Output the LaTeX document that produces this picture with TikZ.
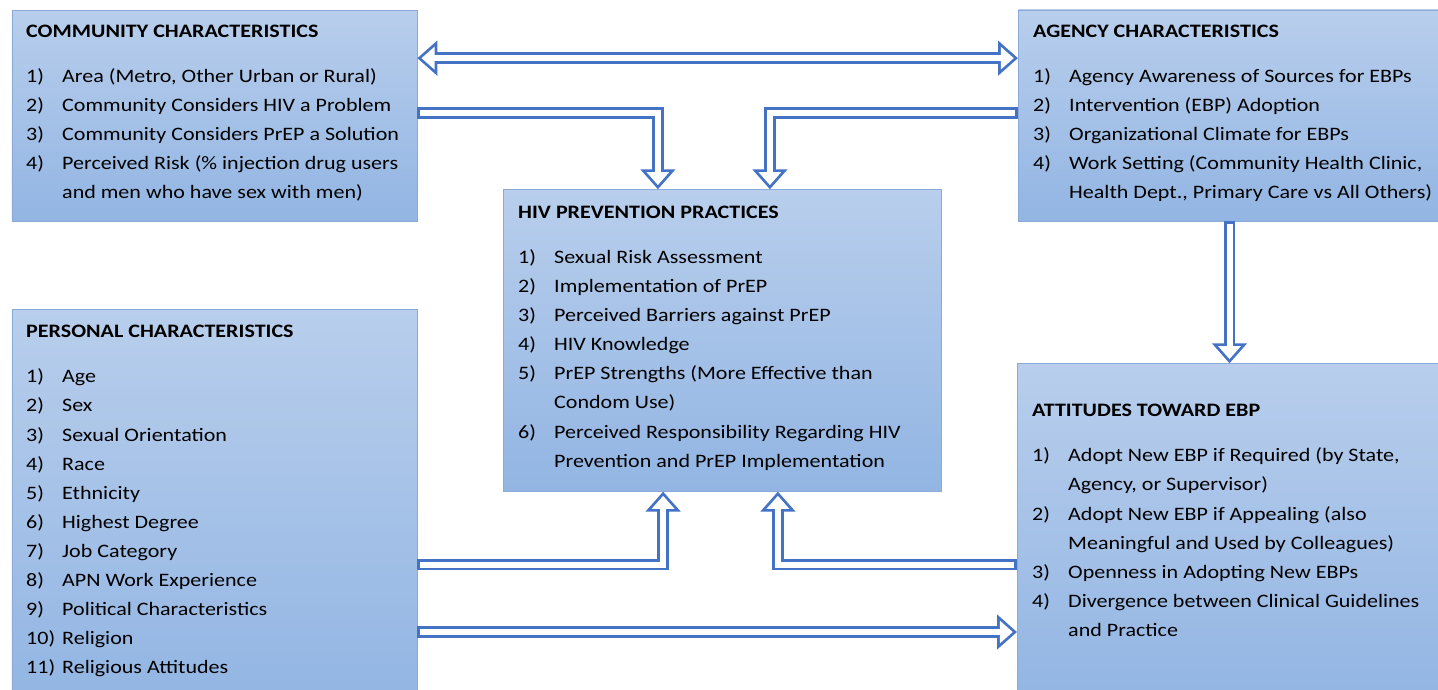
\documentclass[tikz,border=0pt]{standalone}
\usepackage{fontspec}
\setmainfont{Carlito}[FakeStretch=1.16]
\usetikzlibrary{arrows.meta,positioning}

\definecolor{boxtop}{RGB}{184,206,236}
\definecolor{boxbot}{RGB}{146,181,227}
\definecolor{boxline}{RGB}{140,170,215}
\definecolor{arrowblue}{RGB}{68,114,196}

\tikzset{
  panel/.style={rectangle, draw=boxline, line width=0.8pt, top color=boxtop,
    bottom color=boxbot, anchor=north west, inner sep=0pt},
  paneltext/.style={anchor=base west, inner sep=0pt,
    font=\fontsize{19}{29.1}\selectfont},
  % hollow block arrows: a wide blue stroke, then a white one on top
  outline/.style={draw=arrowblue, line width=11.5pt, line join=miter, line cap=butt},
  hollow/.style={draw=white, line width=6pt, line join=miter, line cap=butt},
  bighead/.tip={Triangle[length=20pt,width=34pt]},
  smallhead/.tip={Triangle[length=13pt,width=22pt]},
}

\newcommand{\paneltitle}[1]{\multicolumn{2}{@{}l@{}}{\textbf{#1}}\\[16pt]}

\begin{document}
\begin{tikzpicture}[x=1pt,y=-1pt]
\useasboundingbox (0,0) rectangle (1438,689);

% the five panels
\node[panel, minimum width=405pt, minimum height=210.5pt] (comm) at (11.5,10) {};
\node[panel, minimum width=430pt, minimum height=211pt] (agency) at (1018,9.5) {};
\node[panel, minimum width=438pt, minimum height=301.5pt] (hiv) at (502.7,189.3) {};
\node[panel, minimum width=405pt, minimum height=395pt] (personal) at (11.5,309) {};
\node[panel, minimum width=430pt, minimum height=340pt] (attitudes) at (1017,363.3) {};

\node[paneltext] (commtxt) at ([xshift=14.5pt,yshift=-27.3pt]comm.north west) {%
  \begin{tabular}[t]{@{}p{36pt}@{}l@{}}
  \paneltitle{COMMUNITY CHARACTERISTICS}
  1) & Area (Metro, Other Urban or Rural)\\
  2) & Community Considers HIV a Problem\\
  3) & Community Considers PrEP a Solution\\
  4) & Perceived Risk (\% injection drug users\\
     & and men who have sex with men)
  \end{tabular}};

\node[paneltext] (agencytxt) at ([xshift=15pt,yshift=-27.8pt]agency.north west) {%
  \begin{tabular}[t]{@{}p{36pt}@{}l@{}}
  \paneltitle{AGENCY CHARACTERISTICS}
  1) & Agency Awareness of Sources for EBPs\\
  2) & Intervention (EBP) Adoption\\
  3) & Organizational Climate for EBPs\\
  4) & Work Setting (Community Health Clinic,\\
     & Health Dept., Primary Care vs All Others)
  \end{tabular}};

\node[paneltext] (hivtxt) at ([xshift=15.3pt,yshift=-29pt]hiv.north west) {%
  \begin{tabular}[t]{@{}p{36pt}@{}l@{}}
  \paneltitle{HIV PREVENTION PRACTICES}
  1) & Sexual Risk Assessment\\
  2) & Implementation of PrEP\\
  3) & Perceived Barriers against PrEP\\
  4) & HIV Knowledge\\
  5) & PrEP Strengths (More Effective than\\
     & Condom Use)\\
  6) & Perceived Responsibility Regarding HIV\\
     & Prevention and PrEP Implementation
  \end{tabular}};

\node[paneltext] (personaltxt) at ([xshift=14.5pt,yshift=-28.7pt]personal.north west) {%
  \begin{tabular}[t]{@{}p{36pt}@{}l@{}}
  \paneltitle{PERSONAL CHARACTERISTICS}
  1) & Age\\
  2) & Sex\\
  3) & Sexual Orientation\\
  4) & Race\\
  5) & Ethnicity\\
  6) & Highest Degree\\
  7) & Job Category\\
  8) & APN Work Experience\\
  9) & Political Characteristics\\
  10) & Religion\\
  11) & Religious Attitudes
  \end{tabular}};

\node[paneltext] (attitudestxt) at ([xshift=15pt,yshift=-53.4pt]attitudes.north west) {%
  \begin{tabular}[t]{@{}p{36pt}@{}l@{}}
  \paneltitle{ATTITUDES TOWARD EBP}
  1) & Adopt New EBP if Required (by State,\\
     & Agency, or Supervisor)\\
  2) & Adopt New EBP if Appealing (also\\
     & Meaningful and Used by Colleagues)\\
  3) & Openness in Adopting New EBPs\\
  4) & Divergence between Clinical Guidelines\\
     & and Practice
  \end{tabular}};

% community <-> agency
\draw[outline, {bighead}-{bighead}] ([yshift=57.5pt]comm.east) -- ([yshift=57.5pt]comm.east -| agency.west);
\draw[hollow, shorten <=4.2pt, shorten >=4.2pt, {smallhead}-{smallhead}] ([yshift=57.5pt]comm.east) -- ([yshift=57.5pt]comm.east -| agency.west);

% community -> practices
\draw[outline, -{bighead}] ([yshift=2.5pt]comm.east) -| ([xshift=-64.2pt]hiv.north);
\draw[hollow, shorten <=2.8pt, shorten >=4.2pt, -{smallhead}] ([yshift=2.5pt]comm.east) -| ([xshift=-64.2pt]hiv.north);

% agency -> practices
\draw[outline, -{bighead}] ([yshift=2.5pt]agency.west) -| ([xshift=47.8pt]hiv.north);
\draw[hollow, shorten <=2.8pt, shorten >=4.2pt, -{smallhead}] ([yshift=2.5pt]agency.west) -| ([xshift=47.8pt]hiv.north);

% agency -> attitudes
\draw[outline, -{bighead}] ([xshift=211.5pt]agency.south west) -- ([xshift=211.5pt]agency.south west |- attitudes.north);
\draw[hollow, shorten <=2.8pt, shorten >=4.2pt, -{smallhead}] ([xshift=211.5pt]agency.south west) -- ([xshift=211.5pt]agency.south west |- attitudes.north);

% personal -> practices
\draw[outline, -{bighead}] ([yshift=-255.5pt]personal.north east) -| ([xshift=-59pt]hiv.south);
\draw[hollow, shorten <=2.8pt, shorten >=4.2pt, -{smallhead}] ([yshift=-255.5pt]personal.north east) -| ([xshift=-59pt]hiv.south);

% attitudes -> practices
\draw[outline, -{bighead}] ([yshift=-201.2pt]attitudes.north west) -| ([xshift=55.8pt]hiv.south);
\draw[hollow, shorten <=2.8pt, shorten >=4.2pt, -{smallhead}] ([yshift=-201.2pt]attitudes.north west) -| ([xshift=55.8pt]hiv.south);

% personal -> attitudes
\draw[outline, -{bighead}] ([yshift=-323pt]personal.north east) -- ([yshift=-323pt]personal.north east -| attitudes.west);
\draw[hollow, shorten <=2.8pt, shorten >=4.2pt, -{smallhead}] ([yshift=-323pt]personal.north east) -- ([yshift=-323pt]personal.north east -| attitudes.west);
\end{tikzpicture}
\end{document}
